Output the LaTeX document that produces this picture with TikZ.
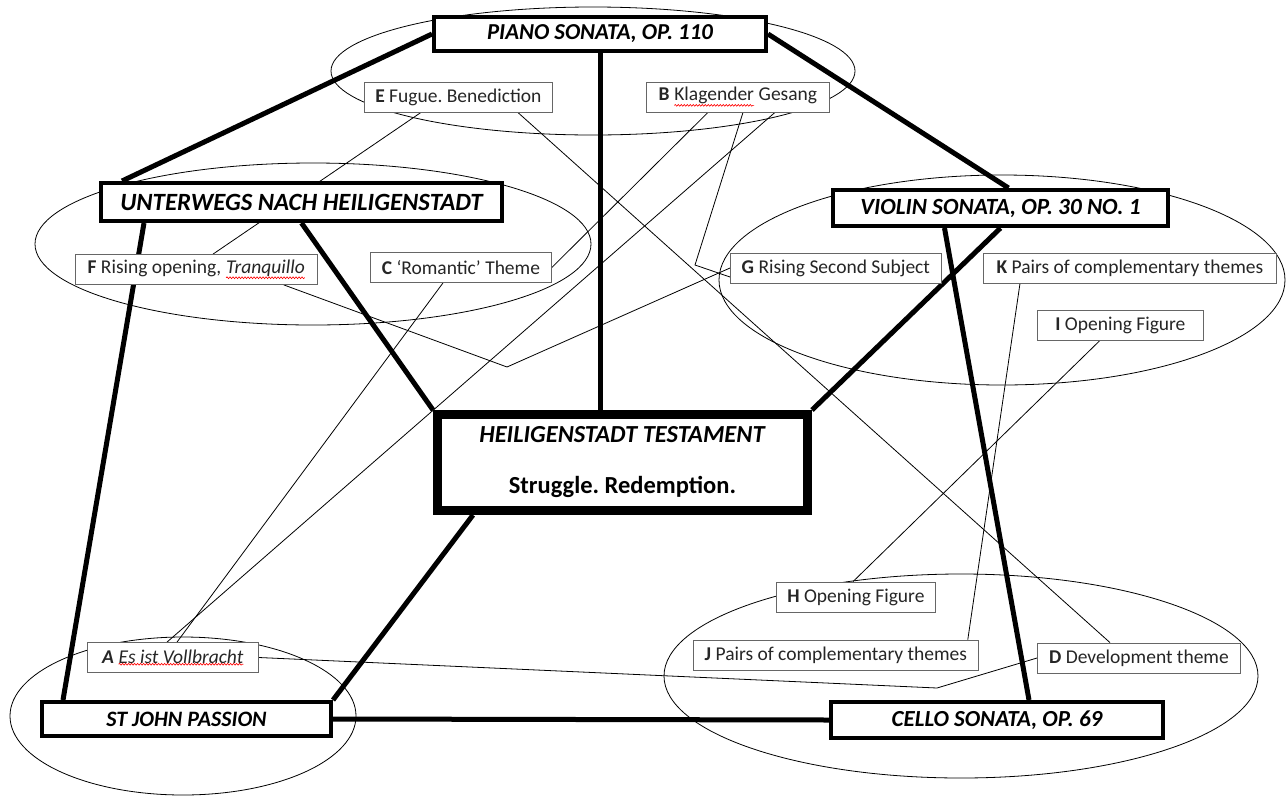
\documentclass[tikz,border=0pt]{standalone}
\usepackage{fontspec}
\setmainfont{Carlito}
\usetikzlibrary{backgrounds, decorations.pathmorphing}
\newcommand\spellcheck[1]{\tikz[baseline=(w.base)]{%
  \node[draw=none, fill=none, inner sep=0pt, outer sep=0pt, minimum width=0pt,
        minimum height=0pt, anchor=base] (w) at (0,0) {#1};
  \draw[red, line width=0.6pt, decorate, decoration={snake, amplitude=0.9pt, segment length=3pt}]
    ([yshift=-1pt]w.south west) -- ([yshift=-1pt]w.south east);}}
\tikzset{
  work/.style  = {draw, line width=4pt, fill=white, inner sep=0pt,
                  font=\fontsize{22}{26}\selectfont\bfseries\itshape},
  theme/.style = {draw=black!60, line width=0.8pt, fill=white, anchor=west,
                  inner xsep=7pt, inner ysep=0pt, minimum height=30pt,
                  text=black!85, font=\fontsize{19.5}{23}\selectfont},
  link/.style  = {line width=5pt},
  cross/.style = {line width=0.8pt},
  group/.style = {line width=0.8pt},
}

\begin{document}
\frenchspacing
\begin{tikzpicture}[x=1pt, y=-1pt]
\useasboundingbox (0,0) rectangle (1286,796);

% the works
\node[work, minimum width=332pt, minimum height=34pt,
      font=\fontsize{22.8}{26}\selectfont\bfseries\itshape] (piano) at (600,34) {PIANO SONATA, OP. 110};
\node[work, minimum width=401pt, minimum height=38pt,
      font=\fontsize{24.8}{26}\selectfont\bfseries\itshape] (unter) at (301.5,202) {UNTERWEGS NACH HEILIGENSTADT};
\node[work, minimum width=335pt, minimum height=36pt,
      font=\fontsize{23.2}{26}\selectfont\bfseries\itshape] (violin) at (1000.5,208) {VIOLIN SONATA, OP. 30 NO. 1};
\node[work, minimum width=289pt, minimum height=34pt] (stjohn) at (186.5,719) {ST JOHN PASSION};
\node[work, minimum width=332pt, minimum height=36pt,
      font=\fontsize{23}{26}\selectfont\bfseries\itshape] (cello) at (997,720) {CELLO SONATA, OP. 69};
\node[work, line width=9pt, minimum width=370pt, minimum height=96pt, align=center,
      font=\fontsize{24.5}{29}\selectfont\bfseries] (ht) at (622.5,462.5)
      {\textit{HEILIGENSTADT TESTAMENT}\\[22pt]Struggle. Redemption.\rule[-6pt]{0pt}{1pt}};

% the themes
\node[theme, minimum width=188pt] (e) at (364,97) {\textbf{E} Fugue. Benediction};
\node[theme, minimum width=183pt] (b) at (646,97) {\textbf{B} \spellcheck{Klagender} Gesang};
\node[theme, minimum width=242pt] (f) at (75,269.5) {\textbf{F} Rising opening, \spellcheck{\textit{Tranquillo}}};
\node[theme, minimum width=181pt] (c) at (370,267.5) {\textbf{C} ‘Romantic’ Theme};
\node[theme, minimum width=211pt] (g) at (730,268) {\textbf{G} Rising Second Subject};
\node[theme, minimum width=293pt] (k) at (983,268) {\textbf{K} Pairs of complementary themes};
\node[theme, minimum width=166pt] (i) at (1037,325) {\textbf{I} Opening Figure};
\node[theme, minimum width=159pt] (h) at (776,597) {\textbf{H} Opening Figure};
\node[theme, minimum width=285pt] (j) at (693,655) {\textbf{J} Pairs of complementary themes};
\node[theme, minimum width=203pt] (d) at (1037,658) {\textbf{D} Development theme};
\node[theme, minimum width=171pt] (a) at (87,657.5) {\textit{\textbf{A}} \spellcheck{\textit{Es ist Vollbracht}}};

\begin{scope}[on background layer]
\draw[group] (593,71) ellipse [x radius=262pt, y radius=64pt];
\draw[group] (313,244) ellipse [x radius=278pt, y radius=81pt];
\draw[group] (1002,280) ellipse [x radius=283pt, y radius=105pt];
\draw[group] (183,716) ellipse [x radius=173pt, y radius=79pt];
\draw[group] (961,676) ellipse [x radius=297pt, y radius=102pt];

\coordinate (bgbend) at (695,265);
\coordinate (fgbend) at (507,367);
\coordinate (adbend) at (937,688);

\draw[cross] ([xshift=57pt]e.south west) -- ([xshift=138pt]f.north west);
\draw[cross] ([xshift=-35pt]e.south east) -- ([xshift=73pt]d.north west);
\draw[cross] ([xshift=62pt]b.south west) -- (c.east);
\draw[cross] ([xshift=97pt]b.south west) -- (bgbend) -- ([yshift=-9pt]g.west);
\draw[cross] ([xshift=129pt]b.south west) -- ([xshift=80pt]a.north west);
\draw[cross] ([xshift=73pt]c.south west) -- ([xshift=90pt]a.north west);
\draw[cross] ([xshift=-34pt]f.south east) -- (fgbend) -- (g.west);
\draw[cross] ([xshift=37pt]k.south west) -- ([xshift=-11pt]j.north east);
\draw[cross] ([xshift=63pt]i.south west) -- ([xshift=77pt]h.north west);
\draw[cross] (a.east) -- (adbend) -- (d.west);

\draw[link] (piano.west) -- ([xshift=23pt]unter.north west);
\draw[link] (piano.east) -- ([xshift=8pt]violin.north);
\draw[link] (piano.south) -- (piano.south |- ht.north);
\draw[link] (unter.south) -- (ht.north west);
\draw[link] ([xshift=45pt]unter.south west) -- ([xshift=23pt]stjohn.north west);
\draw[link] (violin.south) -- (ht.north east);
\draw[link] ([xshift=-56pt]violin.south) -- ([xshift=32pt]cello.north);
\draw[link] ([xshift=40pt]ht.south west) -- (stjohn.north east);
\draw[link] (stjohn.east) -- (cello.west);
\end{scope}

\end{tikzpicture}
\end{document}
